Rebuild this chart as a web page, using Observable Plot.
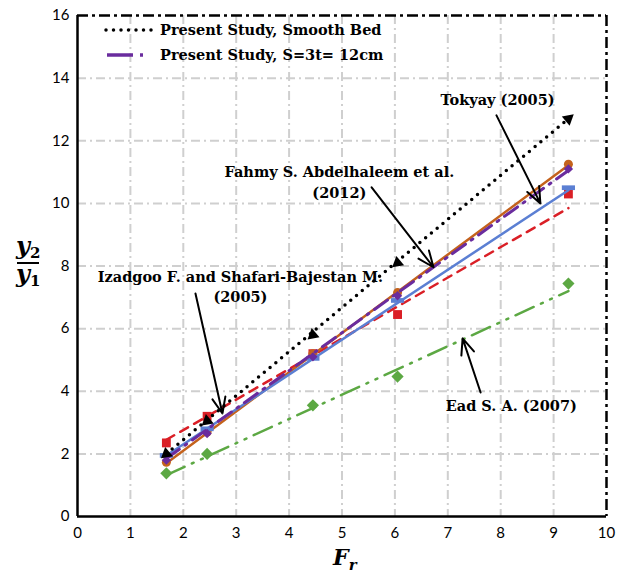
<!DOCTYPE html>
<html><head><meta charset="utf-8">
<script src="https://cdn.jsdelivr.net/npm/d3@7"></script>
<script src="https://cdn.jsdelivr.net/npm/@observablehq/plot@0.6"></script>
<style>body{margin:0;background:#fff} #chart{width:624px;height:575px}</style>
</head><body><div id="chart"></div>
<script>
// ---- data ----
const xs = [1.68, 2.45, 4.45, 6.05, 9.28];           // Froude number Fr
const smoothBed = [2.0, 3.05, 5.8, 8.1, 12.7];       // Present Study, Smooth Bed
const s3t      = [1.8, 2.65, 5.1, 7.05, 11.1];       // Present Study, S=3t= 12cm
const izadgoo  = [2.35, 3.2, 5.2, 6.45, 10.3];       // Izadgoo & Shafari-Bajestan (2005)
const tokyay   = [1.95, 2.8, 5.05, 6.9, 10.5];       // Tokyay (2005)
const fahmy    = [1.73, 2.7, 5.2, 7.15, 11.25];      // Fahmy S. Abdelhaleem et al. (2012)
const ead      = [1.38, 2.0, 3.55, 4.47, 7.44];      // Ead S. A. (2007)

// trend-line end values
const lineX = [1.68, 9.28];
const smoothBedLine = [2.0, 12.7];
const s3tLine       = [1.85, 11.05];
const izadgooLine   = [2.45, 9.85];
const tokyayLine    = [1.95, 10.42];
const fahmyLine     = [1.7, 11.22];
const eadLine       = [1.32, 7.2];

const xTicks = [0,1,2,3,4,5,6,7,8,9,10];
const yTicks = [0,2,4,6,8,10,12,14,16];
const legendLabels = ["Present Study, Smooth Bed", "Present Study, S=3t= 12cm"];

const annLabels = [
  {text: "Tokyay (2005)", x: 7.94, y: 13.29},
  {text: "Fahmy S. Abdelhaleem et al.", x: 4.95, y: 10.99},
  {text: "(2012)", x: 4.95, y: 10.32},
  {text: "Izadgoo F. and Shafari-Bajestan M.", x: 3.08, y: 7.64},
  {text: "(2005)", x: 3.08, y: 7.0},
  {text: "Ead S. A. (2007)", x: 8.2, y: 3.51}
];
const annArrows = [
  {x1: 7.92, y1: 12.81, x2: 8.75, y2: 10.0},
  {x1: 5.56, y1: 10.51, x2: 6.73, y2: 7.96},
  {x1: 2.23, y1: 7.12, x2: 2.74, y2: 3.29},
  {x1: 7.62, y1: 3.96, x2: 7.28, y2: 5.69}
];

// ---- helpers ----
const pts = ys => xs.map((x, i) => ({x, y: ys[i]}));
const seg = ys => lineX.map((x, i) => ({x, y: ys[i]}));
const dashSymbol = {draw(ctx, size) {
  const r = Math.sqrt(size / Math.PI);
  ctx.moveTo(-1.4*r, -0.5*r); ctx.lineTo(1.4*r, -0.5*r);
  ctx.lineTo(1.4*r, 0.5*r); ctx.lineTo(-1.4*r, 0.5*r); ctx.closePath();
}};

const C = {black:"#000", purple:"#6A2C9E", red:"#DA1F26", blue:"#5B7FD3", orange:"#C4621C", green:"#5CA843", grid:"#CFCFCF"};
const serif = "DejaVu Serif, serif";
const annSize = 14.5;

const chart = Plot.plot({
  width: 624, height: 575,
  marginLeft: 77, marginRight: 18, marginTop: 15, marginBottom: 59,
  x: {domain: [0, 10]},
  y: {domain: [0, 16]},
  style: {fontFamily: "Lato, sans-serif", fontSize: "15px", color: "#000", background: "#fff"},
  marks: [
    Plot.ruleX(xTicks.filter(d => d > 0 && d < 10), {stroke: C.grid, strokeWidth: 2, strokeDasharray: "9 4 2 4"}),
    Plot.ruleY(yTicks.filter(d => d > 0 && d < 16), {stroke: C.grid, strokeWidth: 2, strokeDasharray: "9 4 2 4"}),
    Plot.ruleY([16], {stroke: "#000", strokeWidth: 2.5, strokeDasharray: "11 4 3 4"}),
    Plot.ruleX([10], {stroke: "#000", strokeWidth: 2.5, strokeDasharray: "11 4 3 4"}),
    Plot.ruleX([0], {stroke: "#000", strokeWidth: 2.5}),
    Plot.ruleY([0], {stroke: "#000", strokeWidth: 2.5}),
    Plot.axisX({ticks: xTicks, tickSize: 0, tickPadding: 11, label: null, tickFormat: d => d}),
    Plot.axisY({ticks: yTicks, tickSize: 0, tickPadding: 8, label: null, tickFormat: d => d}),

    // Ead
    Plot.line(seg(eadLine), {x: "x", y: "y", stroke: C.green, strokeWidth: 2.5, strokeDasharray: "20 8 2 8 2 8"}),
    Plot.dot(pts(ead), {x: "x", y: "y", symbol: "diamond2", r: 5.5, fill: C.green}),
    // Izadgoo
    Plot.line(seg(izadgooLine), {x: "x", y: "y", stroke: C.red, strokeWidth: 2.5, strokeDasharray: "9 7"}),
    Plot.dot(pts(izadgoo), {x: "x", y: "y", symbol: "square", r: 5, fill: C.red}),
    // Fahmy
    Plot.line(seg(fahmyLine), {x: "x", y: "y", stroke: C.orange, strokeWidth: 2.5}),
    Plot.dot(pts(fahmy), {x: "x", y: "y", symbol: "circle", r: 4.5, fill: C.orange}),
    // Tokyay
    Plot.line(seg(tokyayLine), {x: "x", y: "y", stroke: C.blue, strokeWidth: 2.5}),
    Plot.dot(pts(tokyay), {x: "x", y: "y", symbol: dashSymbol, r: 4.7, fill: C.blue}),
    // Present study S=3t
    Plot.line(seg(s3tLine), {x: "x", y: "y", stroke: C.purple, strokeWidth: 3, strokeDasharray: "16 7 2 7"}),
    Plot.dot(pts(s3t), {x: "x", y: "y", symbol: "diamond2", r: 4.2, fill: C.purple}),
    // Present study smooth bed
    Plot.line(seg(smoothBedLine), {x: "x", y: "y", stroke: C.black, strokeWidth: 3.5, strokeDasharray: "0 7.5", strokeLinecap: "round"}),
    Plot.dot(pts(smoothBed), {x: "x", y: "y", symbol: "triangle", r: 4.5, fill: C.black, rotate: (d, i) => i === 4 ? 50 : 230}),

    // annotations
    Plot.arrow(annArrows, {x1: "x1", y1: "y1", x2: "x2", y2: "y2", stroke: "#000", strokeWidth: 2, headLength: 13, headAngle: 45}),
    Plot.text(annLabels, {x: "x", y: "y", text: "text", fontFamily: serif, fontWeight: "bold", fontSize: annSize, fill: "#000"})
  ]
});

const svg = d3.select(chart);
// legend
const lg = svg.append("g").attr("text-anchor", "start");
lg.append("line").attr("x1", 106).attr("x2", 152).attr("y1", 30).attr("y2", 30)
  .attr("stroke", "#000").attr("stroke-width", 3.5).attr("stroke-linecap", "round").attr("stroke-dasharray", "0 7.5");
lg.append("line").attr("x1", 107).attr("x2", 133).attr("y1", 55).attr("y2", 55)
  .attr("stroke", C.purple).attr("stroke-width", 3.5);
lg.append("line").attr("x1", 140).attr("x2", 143).attr("y1", 55).attr("y2", 55)
  .attr("stroke", C.purple).attr("stroke-width", 3.5);
legendLabels.forEach((t, i) => {
  lg.append("text").attr("x", 160).attr("y", 35 + i * 25).text(t).attr("text-anchor", "start")
    .attr("font-family", serif).attr("font-weight", "bold").attr("font-size", annSize).attr("fill", "#000");
});
// y-axis label: y2 / y1
const yl = svg.append("g").attr("font-family", serif).attr("font-weight", "bold").attr("fill", "#000").attr("text-anchor", "start");
const t1 = yl.append("text").attr("x", 16).attr("y", 254).attr("font-size", 24).attr("font-style", "italic");
t1.append("tspan").text("y");
t1.append("tspan").text("2").attr("font-size", 15).attr("font-style", "normal").attr("dy", 4);
yl.append("line").attr("x1", 17).attr("x2", 39).attr("y1", 263).attr("y2", 263).attr("stroke", "#000").attr("stroke-width", 2);
const t2 = yl.append("text").attr("x", 16).attr("y", 282).attr("font-size", 24).attr("font-style", "italic");
t2.append("tspan").text("y");
t2.append("tspan").text("1").attr("font-size", 15).attr("font-style", "normal").attr("dy", 4);
// x-axis label F_r
const xl = svg.append("text").attr("x", 333).attr("y", 565).attr("font-family", serif).attr("font-weight", "bold")
  .attr("font-style", "italic").attr("font-size", 22).attr("fill", "#000").attr("text-anchor", "start");
xl.append("tspan").text("F");
xl.append("tspan").text("r").attr("font-size", 15).attr("dy", 5);

document.getElementById("chart").append(chart);
</script>
</body></html>
